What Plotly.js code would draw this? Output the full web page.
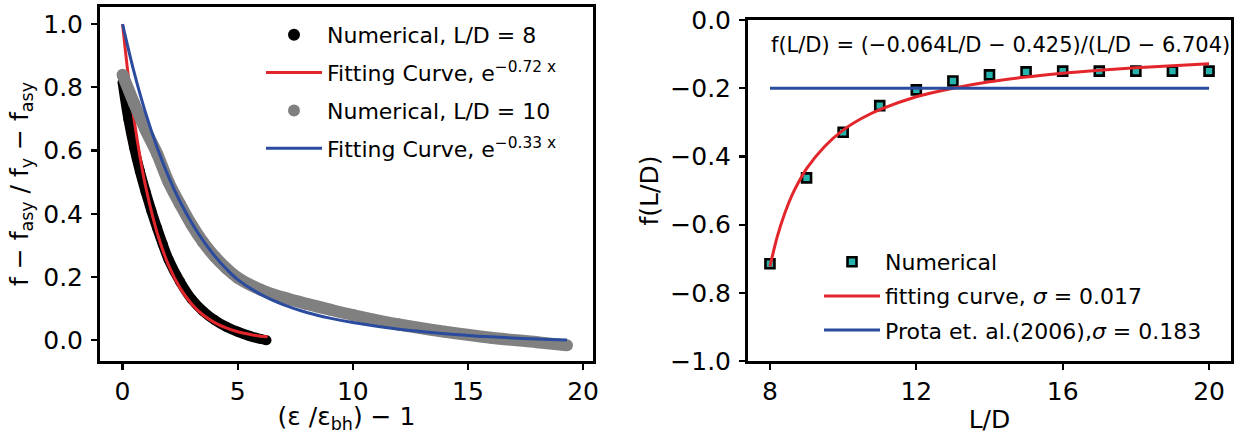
<!DOCTYPE html>
<html>
<head>
<meta charset="utf-8">
<script src="https://cdn.plot.ly/plotly-3.0.1.min.js"></script>
<style>html,body{margin:0;padding:0;background:#fff;}#chart{width:1237px;height:434px;}</style>
</head>
<body>
<div id="chart"></div>
<script>
// ---- Left panel data ----
const ld8X   = [0, 0.25, 0.5, 0.75, 1, 1.25, 1.5, 1.75, 2, 2.5, 3, 3.5, 4, 4.5, 5, 5.5, 6, 6.25];
const ld8Y   = [0.815, 0.70, 0.61, 0.535, 0.47, 0.41, 0.355, 0.303, 0.255, 0.185, 0.13, 0.092, 0.064, 0.043, 0.027, 0.014, 0.004, 0.0];
const fit8X  = [0, 0.25, 0.5, 0.75, 1, 1.5, 2, 2.5, 3, 3.5, 4, 4.5, 5, 5.5, 6, 6.3];
const fit8Y  = [1.0, 0.835, 0.698, 0.583, 0.487, 0.340, 0.237, 0.165, 0.115, 0.080, 0.056, 0.039, 0.027, 0.019, 0.013, 0.011];
const ld10X  = [0, 0.5, 1, 1.5, 2, 2.5, 3, 3.5, 4, 4.5, 5, 6, 7, 8, 9, 10, 12, 14, 16, 18, 19.3];
const ld10Y  = [0.84, 0.75, 0.665, 0.59, 0.50, 0.43, 0.365, 0.31, 0.265, 0.228, 0.198, 0.16, 0.135, 0.115, 0.097, 0.08, 0.05, 0.027, 0.008, -0.006, -0.016];
const fit10X = [0, 0.5, 1, 1.5, 2, 2.5, 3, 3.5, 4, 4.5, 5, 6, 7, 8, 9, 10, 12, 14, 16, 18, 19.3];
const fit10Y = [1.0, 0.848, 0.719, 0.61, 0.517, 0.438, 0.372, 0.315, 0.267, 0.226, 0.192, 0.145, 0.112, 0.088, 0.07, 0.056, 0.035, 0.021, 0.011, 0.004, 0.001];

// ---- Right panel data ----
const ldVals   = [8, 9, 10, 11, 12, 13, 14, 15, 16, 17, 18, 19, 20];
const fNumeric = [-0.715, -0.463, -0.329, -0.251, -0.205, -0.179, -0.161, -0.152, -0.150, -0.150, -0.150, -0.150, -0.150];
const fitLDX   = [8, 8.2, 8.4, 8.6, 8.8, 9, 9.5, 10, 10.5, 11, 12, 13, 14, 15, 16, 17, 18, 19, 20];
const fitLDY   = [-0.723, -0.635, -0.568, -0.514, -0.472, -0.436, -0.370, -0.323, -0.289, -0.263, -0.225, -0.200, -0.181, -0.167, -0.156, -0.147, -0.140, -0.134, -0.128];
const protaX   = [8, 20];
const protaY   = [-0.2, -0.2];

// ---- Text ----
const leftXTitle  = '(ε /ε<sub>bh</sub>) − 1';
const leftYTitle  = 'f − f<sub>asy</sub> / f<sub>y</sub> − f<sub>asy</sub>';
const rightXTitle = 'L/D';
const rightYTitle = 'f(L/D)';
const formulaText = 'f(L/D) = (−0.064L/D − 0.425)/(L/D − 6.704)';

const FONT = 'DejaVu Sans, sans-serif';
const RED = '#e3262b', BLUE = '#2b4b9e', GRAY = '#808080', TEAL = '#25b3ad';

const traces = [
  {x: ld8X, y: ld8Y, mode: 'lines+markers', line: {color: '#000', width: 10, shape: 'spline'},
   marker: {color: '#000', size: 10}, showlegend: false, hoverinfo: 'skip'},
  {x: [null], y: [null], mode: 'markers', marker: {color: '#000', size: 12}, name: 'Numerical, L/D = 8', legendrank: 1, legendgroup: 'a'},
  {x: fit8X, y: fit8Y, mode: 'lines', line: {color: RED, width: 3, shape: 'spline'},
   name: 'Fitting Curve, e<sup>−0.72 x</sup>', legendrank: 2, legendgroup: 'b'},
  {x: ld10X, y: ld10Y, mode: 'lines+markers', line: {color: GRAY, width: 12, shape: 'spline'},
   marker: {color: GRAY, size: 12}, showlegend: false, hoverinfo: 'skip'},
  {x: [null], y: [null], mode: 'markers', marker: {color: GRAY, size: 12}, name: 'Numerical, L/D = 10', legendrank: 3, legendgroup: 'c'},
  {x: fit10X, y: fit10Y, mode: 'lines', line: {color: BLUE, width: 3, shape: 'spline'},
   name: 'Fitting Curve, e<sup>−0.33 x</sup>', legendrank: 4, legendgroup: 'd'},

  {x: ldVals, y: fNumeric, xaxis: 'x2', yaxis: 'y2', mode: 'markers', legend: 'legend2', legendgroup: 'e',
   marker: {symbol: 'square', size: 9, color: TEAL, line: {color: '#000', width: 2.6}}, name: 'Numerical', legendrank: 1},
  {x: fitLDX, y: fitLDY, xaxis: 'x2', yaxis: 'y2', mode: 'lines', legend: 'legend2', legendgroup: 'f',
   line: {color: RED, width: 3, shape: 'spline'}, name: 'fitting curve, <i>σ</i> = 0.017', legendrank: 2},
  {x: protaX, y: protaY, xaxis: 'x2', yaxis: 'y2', mode: 'lines', legend: 'legend2', legendgroup: 'g',
   line: {color: BLUE, width: 3}, name: 'Prota et. al.(2006),<i>σ</i> = 0.183', legendrank: 3}
];

const axisCommon = {
  showline: true, linecolor: '#000', linewidth: 3, mirror: true,
  ticks: 'outside', ticklen: 6, tickwidth: 2.2, tickcolor: '#000',
  showgrid: false, zeroline: false,
  tickfont: {family: FONT, size: 25, color: '#000'}
};
const titleFont = {family: FONT, size: 25, color: '#000'};

const layout = {
  width: 1237, height: 434,
  margin: {l: 0, r: 0, t: 0, b: 0},
  paper_bgcolor: '#fff', plot_bgcolor: '#fff',
  font: {family: FONT, color: '#000'},
  xaxis: Object.assign({}, axisCommon, {
    domain: [100/1237, 593/1237], range: [-0.98, 20.43], tickmode: 'array', tickvals: [0, 5, 10, 15, 20],
    title: {text: leftXTitle, font: titleFont, standoff: 10}, automargin: false, anchor: 'y'
  }),
  yaxis: Object.assign({}, axisCommon, {
    domain: [(434-361)/434, (434-7)/434], range: [-0.0655, 1.054], tickmode: 'array',
    tickvals: [0, 0.2, 0.4, 0.6, 0.8, 1.0], ticktext: ['0.0', '0.2', '0.4', '0.6', '0.8', '1.0'],
    ticklabelstandoff: 3,
    title: {text: leftYTitle, font: titleFont, standoff: 8}, automargin: false, anchor: 'x'
  }),
  xaxis2: Object.assign({}, axisCommon, {
    domain: [748/1237, 1231/1237], range: [7.4, 20.6], tickmode: 'array', tickvals: [8, 12, 16, 20],
    title: {text: rightXTitle, font: titleFont, standoff: 7}, automargin: false, anchor: 'y2'
  }),
  yaxis2: Object.assign({}, axisCommon, {
    domain: [(434-361)/434, (434-20)/434], range: [-1.0, 0.0], tickmode: 'array',
    tickvals: [-1.0, -0.8, -0.6, -0.4, -0.2, 0.0],
    ticktext: ['−1.0', '−0.8', '−0.6', '−0.4', '−0.2', '0.0'],
    ticklabelstandoff: 3,
    title: {text: rightYTitle, font: titleFont, standoff: 5}, automargin: false, anchor: 'x2'
  }),
  legend: {
    x: 261/1237, y: (434-14)/434, xanchor: 'left', yanchor: 'top',
    bgcolor: 'rgba(0,0,0,0)', borderwidth: 0, traceorder: 'grouped',
    font: {family: FONT, size: 22, color: '#000'}, itemwidth: 56, tracegroupgap: 6.2
  },
  legend2: {
    x: 819/1237, y: (434-241)/434, xanchor: 'left', yanchor: 'top',
    bgcolor: 'rgba(0,0,0,0)', borderwidth: 0, traceorder: 'grouped',
    font: {family: FONT, size: 22, color: '#000'}, itemwidth: 56, tracegroupgap: 2.5
  },
  annotations: [
    {xref: 'paper', yref: 'paper', x: 1232/1237, y: (434-45)/434, xanchor: 'right', yanchor: 'middle',
     text: formulaText, showarrow: false, font: {family: FONT, size: 21, color: '#000'}}
  ]
};

Plotly.newPlot('chart', traces, layout, {staticPlot: true, displayModeBar: false});
</script>
</body>
</html>
